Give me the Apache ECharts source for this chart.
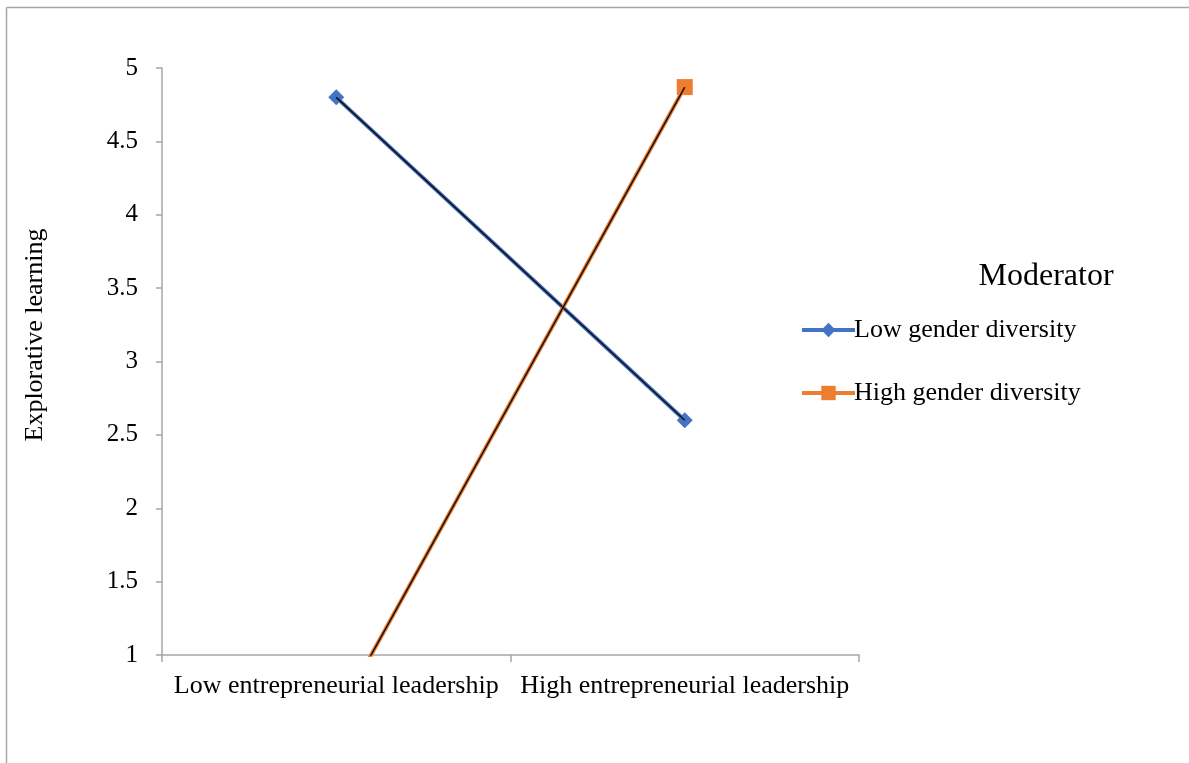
<!DOCTYPE html>
<html>
<head>
<meta charset="utf-8">
<script src="https://cdn.jsdelivr.net/npm/echarts@6/dist/echarts.min.js"></script>
<style>
  html, body { margin: 0; padding: 0; background: #fff; }
  #chart { width: 1189px; height: 763px; }
</style>
</head>
<body>
<div id="chart"></div>
<script>
const categories = ['Low entrepreneurial leadership', 'High entrepreneurial leadership'];
const lowDiversity = [4.8, 2.6];
const highDiversity = [0.57, 4.87];
const yTicks = { min: 1, max: 5, interval: 0.5 };

const serif = '"Liberation Serif", "Times New Roman", serif';
const blue = '#4472C4';
const orange = '#ED7D31';
const axisGray = '#A6A6A6';

const chart = echarts.init(document.getElementById('chart'));

const option = {
  animation: false,
  backgroundColor: '#fff',
  textStyle: { fontFamily: serif },
  grid: { left: 162, right: 330, top: 68, bottom: 108 },
  legend: {
    data: ['Low gender diversity', 'High gender diversity'],
    orient: 'vertical',
    left: 795,
    top: 312,
    itemWidth: 53,
    itemHeight: 18,
    itemGap: 37,
    lineStyle: { width: 4 },
    textStyle: { fontFamily: serif, fontSize: 26, color: '#000', padding: [0, 0, 0, -6] }
  },
  xAxis: {
    type: 'category',
    data: categories,
    boundaryGap: true,
    axisLine: { lineStyle: { color: axisGray, width: 1.5 } },
    axisTick: { show: true, length: 7, lineStyle: { color: axisGray, width: 1.5 } },
    axisLabel: { color: '#000', fontSize: 26, fontFamily: serif, margin: 18, interval: 0, hideOverlap: false },
    splitLine: { show: false }
  },
  yAxis: {
    type: 'value',
    min: yTicks.min,
    max: yTicks.max,
    interval: yTicks.interval,
    axisLine: { show: true, lineStyle: { color: axisGray, width: 1.5 } },
    axisTick: { show: true, length: 6, lineStyle: { color: axisGray, width: 1.5 } },
    axisLabel: { color: '#000', fontSize: 25, fontFamily: serif, margin: 24 },
    splitLine: { show: false }
  },
  graphic: [
    { type: 'line', shape: { x1: 6.5, y1: 7.5, x2: 1189, y2: 7.5 }, style: { stroke: axisGray, lineWidth: 1.5 } },
    { type: 'line', shape: { x1: 6.5, y1: 7.5, x2: 6.5, y2: 763 }, style: { stroke: axisGray, lineWidth: 1.5 } },
    {
      type: 'text', x: 35, y: 335, rotation: Math.PI / 2,
      style: { text: 'Explorative learning', font: '26px ' + serif, fill: '#000', align: 'center', verticalAlign: 'middle' }
    },
    {
      type: 'text', x: 1046, y: 277,
      style: { text: 'Moderator', font: '32px ' + serif, fill: '#000', align: 'center', verticalAlign: 'middle' }
    }
  ],
  series: [
    {
      name: 'Low gender diversity',
      type: 'line',
      data: lowDiversity,
      color: blue,
      symbol: 'diamond',
      symbolSize: 16,
      lineStyle: { color: blue, width: 4 },
      itemStyle: { color: blue },
      z: 2
    },
    {
      name: 'High gender diversity',
      type: 'line',
      data: highDiversity,
      color: orange,
      symbol: 'rect',
      symbolSize: 16,
      lineStyle: { color: orange, width: 4 },
      itemStyle: { color: orange },
      z: 2
    },
    {
      name: 'lowOverlay',
      type: 'line',
      data: lowDiversity,
      symbol: 'none',
      silent: true,
      lineStyle: { color: '#111', width: 1.5 },
      z: 3
    },
    {
      name: 'highOverlay',
      type: 'line',
      data: highDiversity,
      symbol: 'none',
      silent: true,
      lineStyle: { color: '#111', width: 1.5 },
      z: 3
    }
  ]
};

chart.setOption(option);
</script>
</body>
</html>
